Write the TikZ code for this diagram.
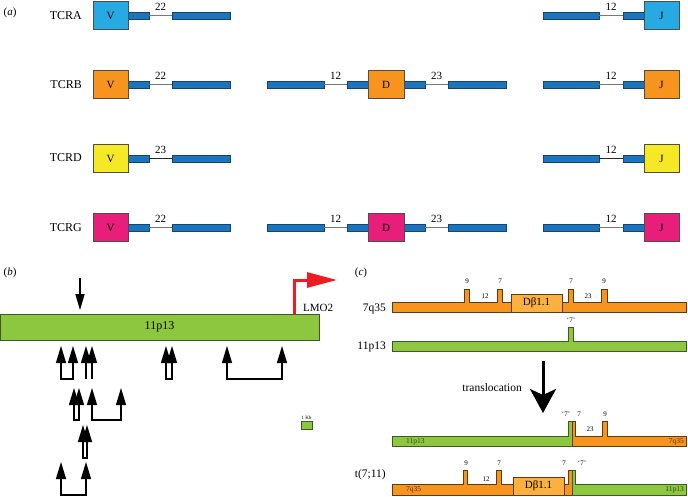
\documentclass[tikz,border=0pt]{standalone}
\usepackage{fontspec}
\setmainfont{Liberation Serif}
\usetikzlibrary{arrows.meta}
\definecolor{tcrblue}{HTML}{27AAE1}
\definecolor{tcrorange}{HTML}{F7941D}
\definecolor{tcryellow}{HTML}{F5E925}
\definecolor{tcrmagenta}{HTML}{E91E7B}
\definecolor{barblue}{HTML}{1C75BC}
\definecolor{chrgreen}{HTML}{8DC63F}
\definecolor{dborange}{HTML}{FBB040}
\definecolor{promred}{HTML}{ED1C24}
\definecolor{linkgray}{HTML}{77787B}
\definecolor{edgegray}{HTML}{4D4D4D}
\definecolor{greenedge}{HTML}{3D5A22}
\definecolor{orangeedge}{HTML}{5C3A12}
\definecolor{darkgreentext}{HTML}{2F4A18}
\definecolor{browntext}{HTML}{5A3208}

\newcommand{\tcrV}[4]{%
  \node[bluebar, minimum width=21pt] (#1v1) at (138.5,#2) {};
  \node[bluebar, minimum width=58pt] (#1v2) at (201,#2) {};
  \draw[link] (#1v1) -- (#1v2);
  \node[segbox, fill=#3] (#1V) at (110.5,#2) {V};
  \node[num] (#1n1) at (160.5,#2-8.5) {#4};
}
\newcommand{\tcrD}[3]{%
  \node[bluebar, minimum width=57pt] (#1d1) at (295.5,#2) {};
  \node[bluebar, minimum width=21pt] (#1d2) at (357.5,#2) {};
  \node[bluebar, minimum width=21pt] (#1d3) at (414.5,#2) {};
  \node[bluebar, minimum width=58pt] (#1d4) at (477,#2) {};
  \draw[link] (#1d1) -- (#1d2);
  \draw[link] (#1d3) -- (#1d4);
  \node[segbox, fill=#3, minimum width=36pt] (#1D) at (386,#2) {D};
  \node[num] (#1n2) at (335.5,#2-8.5) {12};
  \node[num] (#1n3) at (436.5,#2-8.5) {23};
}
\newcommand{\tcrJ}[3]{%
  \node[bluebar, minimum width=56pt] (#1j1) at (571,#2) {};
  \node[bluebar, minimum width=21pt] (#1j2) at (633.5,#2) {};
  \draw[link] (#1j1) -- (#1j2);
  \node[segbox, fill=#3] (#1J) at (661.5,#2) {J};
  \node[num] (#1n4) at (611,#2-8.5) {12};
}
\newcommand{\uarr}[5]{%
  \coordinate (#1a) at (#2,#4);
  \coordinate (#1b) at (#3,#4);
  \coordinate (#1c) at (#2,#5);
  \coordinate (#1d) at (#3,#5);
  \draw[uparr, tipT-tipT] (#1a) -- (#1c) -- (#1d) -- (#1b);
}
\newcommand{\sarr}[4]{%
  \coordinate (#1a) at (#2,#3);
  \coordinate (#1c) at (#2,#4);
  \draw[uparr, tipT-] (#1a) -- (#1c);
}

\begin{document}
\begin{tikzpicture}[x=1pt,y=-1pt,
  segbox/.style={draw=edgegray, line width=0.6pt, minimum width=35pt, minimum height=28pt, inner sep=0pt, font=\fontsize{11}{11}\selectfont},
  bluebar/.style={draw=barblue!60!black, fill=barblue, line width=0.5pt, minimum height=7pt, inner sep=0pt},
  link/.style={draw=linkgray, line width=0.8pt},
  num/.style={font=\fontsize{11}{11}\selectfont, inner sep=0pt},
  rowlabel/.style={font=\fontsize{12}{12}\selectfont, anchor=east, inner sep=0pt},
  panel/.style={font=\fontsize{11}{11}\selectfont, inner sep=0pt},
  tipT/.tip={Triangle[length=17pt,width=10pt]},
  uparr/.style={line width=1.3pt, draw=black},
  obar/.style={fill=tcrorange, draw=orangeedge, line width=0.6pt},
  gbar/.style={fill=chrgreen, draw=greenedge, line width=0.6pt},
  dbox/.style={fill=dborange, draw=orangeedge, line width=0.6pt, minimum width=51pt, minimum height=18pt, inner sep=0pt, font=\fontsize{11}{11}\selectfont},
  tiny/.style={font=\fontsize{7}{7}\selectfont, inner sep=0pt},
  inlab/.style={font=\fontsize{7.5}{7.5}\selectfont, inner sep=0pt},
  clabel/.style={font=\fontsize{11.5}{11.5}\selectfont, anchor=base east, inner sep=0pt}
]
\useasboundingbox (0,0) rectangle (688,496);

% ---------------- (a)
\node[panel] (pa) at (10,13) {(\textit{a})};

\node[rowlabel] (lA) at (82,15.5) {TCRA};
\tcrV{A}{15.5}{tcrblue}{22}
\tcrJ{A}{15.5}{tcrblue}

\node[rowlabel] (lB) at (82,84.5) {TCRB};
\tcrV{B}{84.5}{tcrorange}{22}
\tcrD{B}{84.5}{tcrorange}
\tcrJ{B}{84.5}{tcrorange}

\begin{scope}[link/.style={draw=black!85, line width=0.8pt}]
\node[rowlabel] (lD) at (82,158) {TCRD};
\tcrV{D}{158.5}{tcryellow}{23}
\tcrJ{D}{158.5}{tcryellow}
\end{scope}

\node[rowlabel] (lG) at (82,227.5) {TCRG};
\tcrV{G}{227.5}{tcrmagenta}{22}
\tcrD{G}{227.5}{tcrmagenta}
\tcrJ{G}{227.5}{tcrmagenta}

% ---------------- (b)
\node[panel] (pb) at (10,273) {(\textit{b})};
\node[draw=greenedge, fill=chrgreen, line width=0.8pt, minimum width=319pt, minimum height=26pt, inner sep=0pt, font=\fontsize{12}{12}\selectfont] (chr) at (159.5,327) {11p13};

\coordinate (dtop) at (80,278);
\draw[line width=1.4pt, -{Triangle[length=16pt,width=9pt]}, shorten >=3.5pt] (dtop) -- (dtop |- chr.north);

\coordinate (prom) at (294,314);
\coordinate (promtip) at (337,280);
\draw[promred, line width=3pt, -{Triangle[length=30pt,width=15pt]}] (prom) |- (promtip);
\node[font=\fontsize{11}{11}\selectfont, anchor=west, inner sep=0pt] (lmo) at (303,308) {LMO2};

\uarr{r1p}{61}{73}{346}{379}
\sarr{r1s}{86}{346}{379}
\sarr{r1t}{92}{346}{379}
\uarr{r1q}{166}{172}{346}{379}
\uarr{r1r}{227}{282}{346}{379}

\uarr{r2p}{74}{79}{388}{420}
\uarr{r2q}{92}{121}{388}{420}

\uarr{r3p}{83}{87}{425}{458}

\uarr{r4p}{61}{86}{462}{495}

\node[draw=greenedge, fill=chrgreen, line width=0.6pt, minimum width=11pt, minimum height=8pt, inner sep=0pt] (kb) at (306.5,425) {};
\node[font=\fontsize{5}{5}\selectfont, inner sep=0pt, anchor=south] (kbl) at ([yshift=1pt]kb.north) {1 Kb};

% ---------------- (c)
\node[panel] (pc) at (361,273) {(\textit{c})};

\node[clabel] (l7q) at (386,311.5) {7q35};
\node[clabel] (l11) at (386,349.5) {11p13};
\node[clabel] (lt) at (386,477) {t(7;11)};

% 7q35
\path[obar] (392,312) -- (392,302) -- (464,302) -- (464,289) -- (469,289) -- (469,302) -- (497,302) -- (497,289) -- (502,289) -- (502,302) -- (568,302) -- (568,289) -- (573,289) -- (573,302) -- (601,302) -- (601,289) -- (607,289) -- (607,302) -- (686,302) -- (686,312) -- cycle;
\node[dbox] (db1) at (536.5,303) {Dβ1.1};
\node[tiny] (a9) at (467,281) {9};
\node[tiny] (a7) at (500,281) {7};
\node[tiny] (a12) at (485,296) {12};
\node[tiny] (a7b) at (571,281) {7};
\node[tiny] (a23) at (588,296) {23};
\node[tiny] (a9b) at (604,281) {9};

% 11p13
\path[gbar] (392,351) -- (392,341) -- (568,341) -- (568,327) -- (573,327) -- (573,341) -- (686,341) -- (686,351) -- cycle;
\node[tiny] (b7) at (571,320) {`7'};

% translocation arrow
\coordinate (tstart) at (543,361);
\coordinate (tend) at (543,413);
\draw[line width=3pt, -{Stealth[length=24pt,width=26pt,inset=6pt]}] (tstart) -- (tend);
\node[font=\fontsize{11.5}{11.5}\selectfont, anchor=east, inner sep=0pt] (trl) at (522,388) {translocation};

% derivative 1
\path[gbar] (392,446) -- (392,436.5) -- (568,436.5) -- (568,421) -- (572,421) -- (572,446) -- cycle;
\path[obar] (572,446) -- (572,421) -- (575,421) -- (575,436.5) -- (602,436.5) -- (602,421) -- (607,421) -- (607,436.5) -- (686,436.5) -- (686,446) -- cycle;
\node[tiny] (c7q) at (566,414) {`7'};
\node[tiny] (c7) at (579,414) {7};
\node[tiny] (c23) at (590,429) {23};
\node[tiny] (c9) at (605,414) {9};
\node[inlab, text=darkgreentext, anchor=west] (c11) at (406,441.5) {11p13};
\node[inlab, text=browntext, anchor=east] (c7q35) at (684,441.5) {7q35};

% derivative 2
\path[obar] (392,495) -- (392,484) -- (463,484) -- (463,470) -- (467,470) -- (467,484) -- (496,484) -- (496,470) -- (501,470) -- (501,484) -- (568,484) -- (568,470) -- (572,470) -- (572,495) -- cycle;
\node[dbox] (db2) at (538.5,486) {Dβ1.1};
\path[gbar] (572,495) -- (572,470) -- (575,470) -- (575,484) -- (686,484) -- (686,495) -- cycle;
\node[tiny] (d9) at (466,463) {9};
\node[tiny] (d7) at (499,463) {7};
\node[tiny] (d12) at (486,479) {12};
\node[tiny] (d7b) at (564,463) {7};
\node[tiny] (d7q) at (582,463) {`7'};
\node[inlab, text=browntext, anchor=west] (d7q35) at (406,490) {7q35};
\node[inlab, text=darkgreentext, anchor=east] (d11) at (684,490) {11p13};
\end{tikzpicture}
\end{document}
